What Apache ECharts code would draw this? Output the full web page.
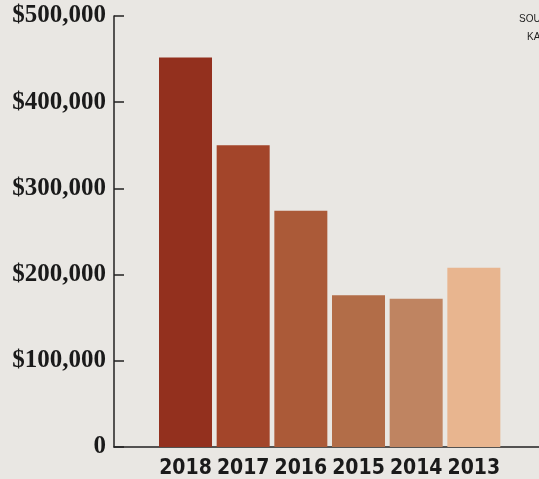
<!DOCTYPE html>
<html>
<head>
<meta charset="utf-8">
<style>
  html, body { margin: 0; padding: 0; background: #e9e7e3; }
  #chart { width: 539px; height: 479px; }
</style>
<script src="https://cdn.jsdelivr.net/npm/echarts@6/dist/echarts.min.js"></script>
</head>
<body>
<div id="chart"></div>
<script>
// Data
const years = ['2018', '2017', '2016', '2015', '2014', '2013'];
const values = [452000, 350000, 274000, 176000, 172000, 208000];
const yTicks = [0, 100000, 200000, 300000, 400000, 500000];

// Style palette (separate from data)
const barColors = ['#93301e', '#a3452a', '#ab5a38', '#b26d48', '#bf8461', '#e8b58f'];

const chart = echarts.init(document.getElementById('chart'), null, { renderer: 'canvas' });

const fmtMoney = v => v === 0 ? '0' : '$' + v.toLocaleString('en-US');

const option = {
  backgroundColor: '#e9e7e3',
  animation: false,
  grid: { left: 114, right: 0, top: 16, bottom: 32, containLabel: false },
  xAxis: {
    type: 'value',
    min: -1.24,
    max: 6.13,
    splitLine: { show: false },
    axisLine: { show: true, onZero: false, lineStyle: { color: '#222', width: 1.5 } },
    axisTick: { show: false },
    axisLabel: {
      customValues: years.map((_, i) => i),
      formatter: v => years[Math.round(v)] || '',
      hideOverlap: false,
      showMinLabel: true,
      showMaxLabel: true,
      color: '#1a1a1a',
      fontFamily: '"Liberation Sans Narrow", "DejaVu Sans Condensed", sans-serif',
      fontWeight: 'bold',
      fontSize: 21,
      margin: 11
    }
  },
  yAxis: {
    type: 'value',
    min: 0,
    max: 500000,
    interval: 100000,
    splitLine: { show: false },
    axisLine: { show: true, onZero: false, lineStyle: { color: '#222', width: 1.5 } },
    axisTick: { show: true, inside: true, length: 10, lineStyle: { color: '#222', width: 1.5 } },
    axisLabel: {
      formatter: fmtMoney,
      color: '#1a1a1a',
      fontFamily: '"Liberation Serif", "DejaVu Serif", serif',
      fontWeight: 'bold',
      fontSize: 25,
      margin: 8
    }
  },
  series: [{
    type: 'bar',
    barWidth: 53,
    data: values.map((v, i) => ({ value: [i, v], itemStyle: { color: barColors[i] } })),
    itemStyle: { borderWidth: 0 }
  }],
  graphic: [
    { type: 'text', left: 519, top: 14, style: { text: 'SOUR', fontSize: 10, fontFamily: '"Liberation Sans Narrow", sans-serif', fill: '#222' } },
    { type: 'text', left: 527, top: 32, style: { text: 'KA', fontSize: 10, fontFamily: '"Liberation Sans Narrow", sans-serif', fill: '#222' } }
  ]
};

chart.setOption(option);
</script>
</body>
</html>
